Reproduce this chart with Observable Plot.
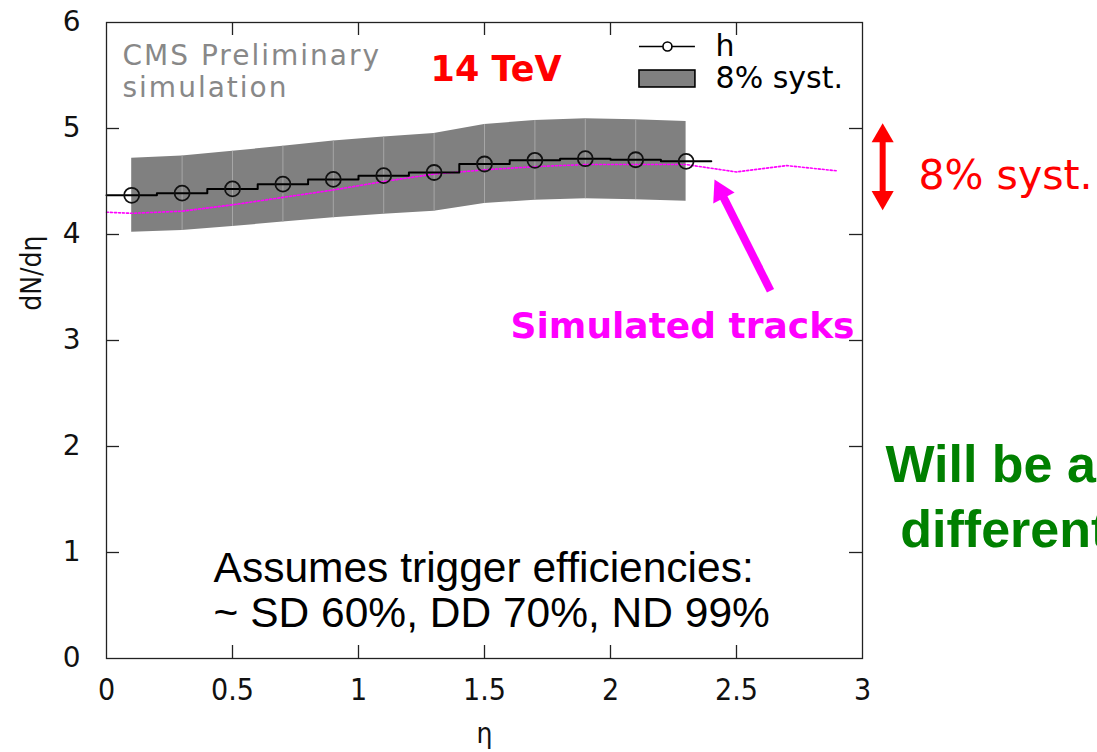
<!DOCTYPE html>
<html>
<head>
<meta charset="utf-8">
<script src="https://cdn.jsdelivr.net/npm/d3@7"></script>
<script src="https://cdn.jsdelivr.net/npm/@observablehq/plot@0.6"></script>
<style>
  html, body { margin: 0; padding: 0; background: #fff; }
  #chart svg { display: block; }
  #chart g[aria-description="cms-label"] text { letter-spacing: 2px; }
</style>
</head>
<body>
<div id="chart"></div>
<script>
// Pseudorapidity bin centres (bins are 0.2 wide)
const etaBins = [0.1, 0.3, 0.5, 0.7, 0.9, 1.1, 1.3, 1.5, 1.7, 1.9, 2.1, 2.3];
// dN/dη of histogram "h" in each bin
const dNdEta = [4.37, 4.39, 4.43, 4.475, 4.52, 4.555, 4.585, 4.665, 4.70, 4.715, 4.705, 4.69];
// Relative systematic uncertainty shown as the grey band
const systFraction = 0.08;
// Simulated-tracks curve
const simEta = [0.0, 0.1, 0.3, 0.5, 0.7, 0.9, 1.1, 1.3, 1.5, 1.7, 1.9, 2.1, 2.3, 2.5, 2.7, 2.9];
const simDNdEta = [4.21, 4.20, 4.22, 4.28, 4.35, 4.42, 4.50, 4.57, 4.61, 4.64, 4.66, 4.66, 4.66, 4.59, 4.65, 4.60];
// Axis ticks
const xTicks = [0, 0.5, 1, 1.5, 2, 2.5, 3];
const yTicks = [0, 1, 2, 3, 4, 5, 6];
// Legend entries
const legendLabels = ["h", "8% syst."];

const halfBin = 0.1;
const bins = etaBins.map((eta, i) => ({eta, v: dNdEta[i], lo: dNdEta[i] * (1 - systFraction), hi: dNdEta[i] * (1 + systFraction)}));
// stair outline: left edge of every bin plus the right edge of the last one
const stairs = bins.map(b => ({x: b.eta - halfBin, v: b.v}))
  .concat([{x: bins[bins.length - 1].eta + halfBin, v: bins[bins.length - 1].v}]);
const sim = simEta.map((eta, i) => ({eta, v: simDNdEta[i]}));

const W = 1097, H = 752;
const mL = 106, mR = 235, mT = 22, mB = 94;
const plotW = W - mL - mR, plotH = H - mT - mB;
const tickLen = 13;

const sans = "DejaVu Sans, Liberation Sans, sans-serif";
const narrow = "DejaVu Sans Condensed, Liberation Sans Narrow, DejaVu Sans, sans-serif";
const arial = "Liberation Sans, Arial, sans-serif";

const chart = Plot.plot({
  width: W,
  height: H,
  marginLeft: mL,
  marginRight: mR,
  marginTop: mT,
  marginBottom: mB,
  style: {background: "#fff", fontFamily: sans, overflow: "visible"},
  x: {domain: [0, 3]},
  y: {domain: [0, 6]},
  marks: [
    // systematic band
    Plot.areaY(bins, {x: "eta", y1: "lo", y2: "hi", fill: "#808080"}),
    Plot.ruleX(bins.slice(1, -1), {x: "eta", y1: "lo", y2: "hi", stroke: "#a6a6a6", strokeWidth: 1}),

    // simulated tracks
    Plot.line(sim, {x: "eta", y: "v", stroke: "#ff00ff", strokeWidth: 1.6, strokeDasharray: "2,2"}),

    // histogram h
    Plot.line(stairs, {x: "x", y: "v", curve: "step-after", stroke: "#000", strokeWidth: 2}),
    Plot.dot(bins, {x: "eta", y: "v", r: 7.5, stroke: "#111", strokeWidth: 1.8, fill: "none"}),

    // frame and inward ticks on all four sides
    Plot.frame({stroke: "#222", strokeWidth: 1.3}),
    Plot.ruleX(xTicks.slice(1, -1), {x: d => d, insetTop: plotH - tickLen, stroke: "#222", strokeWidth: 1.3}),
    Plot.ruleX(xTicks.slice(1, -1), {x: d => d, insetBottom: plotH - tickLen, stroke: "#222", strokeWidth: 1.3}),
    Plot.ruleY(yTicks.slice(1, -1), {y: d => d, insetRight: plotW - tickLen, stroke: "#222", strokeWidth: 1.3}),
    Plot.ruleY(yTicks.slice(1, -1), {y: d => d, insetLeft: plotW - tickLen, stroke: "#222", strokeWidth: 1.3}),

    Plot.axisY(yTicks, {anchor: "left", tickSize: 0, tickPadding: 26, fontSize: 28, fontFamily: sans, fill: "#111", label: null, tickFormat: d => String(d)}),
    Plot.axisX(xTicks, {anchor: "bottom", tickSize: 0, tickPadding: 20, fontSize: 30, fontFamily: narrow, fill: "#111", label: null, tickFormat: d => String(d)}),

    // axis titles
    Plot.text(["η"], {frameAnchor: "bottom", x: 1.5, dy: 84, fontSize: 28, fontFamily: narrow, fill: "#111"}),
    Plot.text(["dN/dη"], {frameAnchor: "left", y: 3.28, dx: -74, rotate: -90, fontSize: 28, fontFamily: narrow, fill: "#111"}),

    // legend
    Plot.ruleY([5.774], {x1: 2.115, x2: 2.337, stroke: "#000", strokeWidth: 1.6}),
    Plot.dot([0], {x: 2.226, y: 5.774, r: 4.5, stroke: "#000", strokeWidth: 1.6, fill: "#fff"}),
    Plot.rect([0], {x1: 2.115, x2: 2.337, y1: 5.387, y2: 5.547, fill: "#808080", stroke: "#000", strokeWidth: 1.6}),
    Plot.text(legendLabels, {x: 2.417, y: (d, i) => [5.774, 5.47][i], textAnchor: "start", fontSize: 30, fontFamily: sans, fill: "#000"}),

    // labels inside the frame
    Plot.text(["CMS Preliminary\nsimulation"], {x: 0.0635, y: 5.542, textAnchor: "start", lineHeight: 1.15, fontSize: 28, fontFamily: sans, fill: "#888", ariaDescription: "cms-label"}),
    Plot.text(["14 TeV"], {x: 1.286, y: 5.55, textAnchor: "start", fontSize: 35, fontWeight: "bold", fontFamily: sans, fill: "#ff0000"}),
    Plot.text(["Assumes trigger efficiencies:\n~ SD 60%, DD 70%, ND 99%"], {x: 0.425, y: 0.646, textAnchor: "start", lineHeight: 1.07, fontSize: 42.5, fontFamily: arial, fill: "#000"}),

    // simulated-tracks pointer
    Plot.link([0], {x1: 2.635, y1: 3.47, x2: 2.44, y2: 4.39, stroke: "#ff00ff", strokeWidth: 8}),
    Plot.dot([0], {x: 2.413, y: 4.52, dx: 6.2, dy: 12.4, symbol: "triangle", r: 8.9, rotate: -27, fill: "#ff00ff", stroke: "none"}),
    Plot.text(["Simulated tracks"], {x: 2.286, y: 3.13, fontSize: 36, fontWeight: "bold", fontFamily: sans, fill: "#ff00ff"}),

    // systematic-size double arrow to the right of the frame
    Plot.ruleX([3.08], {y1: 4.35, y2: 4.93, stroke: "#ff0000", strokeWidth: 6}),
    Plot.dot([0], {x: 3.08, y: 5.05, dy: 12.7, symbol: "triangle", r: 8.2, fill: "#ff0000", stroke: "none"}),
    Plot.dot([0], {x: 3.08, y: 4.23, dy: -12.7, symbol: "triangle", r: 8.2, rotate: 180, fill: "#ff0000", stroke: "none"}),
    Plot.text(["8% syst."], {x: 3.222, y: 4.557, textAnchor: "start", fontSize: 41, fontFamily: sans, fill: "#ff0000"}),

    // remark running off the right edge of the page
    Plot.text(["Will be a"], {x: 3.091, y: 1.82, textAnchor: "start", fontSize: 52, fontWeight: "bold", fontFamily: arial, fill: "#008000"}),
    Plot.text(["different"], {x: 3.15, y: 1.21, textAnchor: "start", fontSize: 52, fontWeight: "bold", fontFamily: arial, fill: "#008000"})
  ]
});

document.getElementById("chart").append(chart);
</script>
</body>
</html>
